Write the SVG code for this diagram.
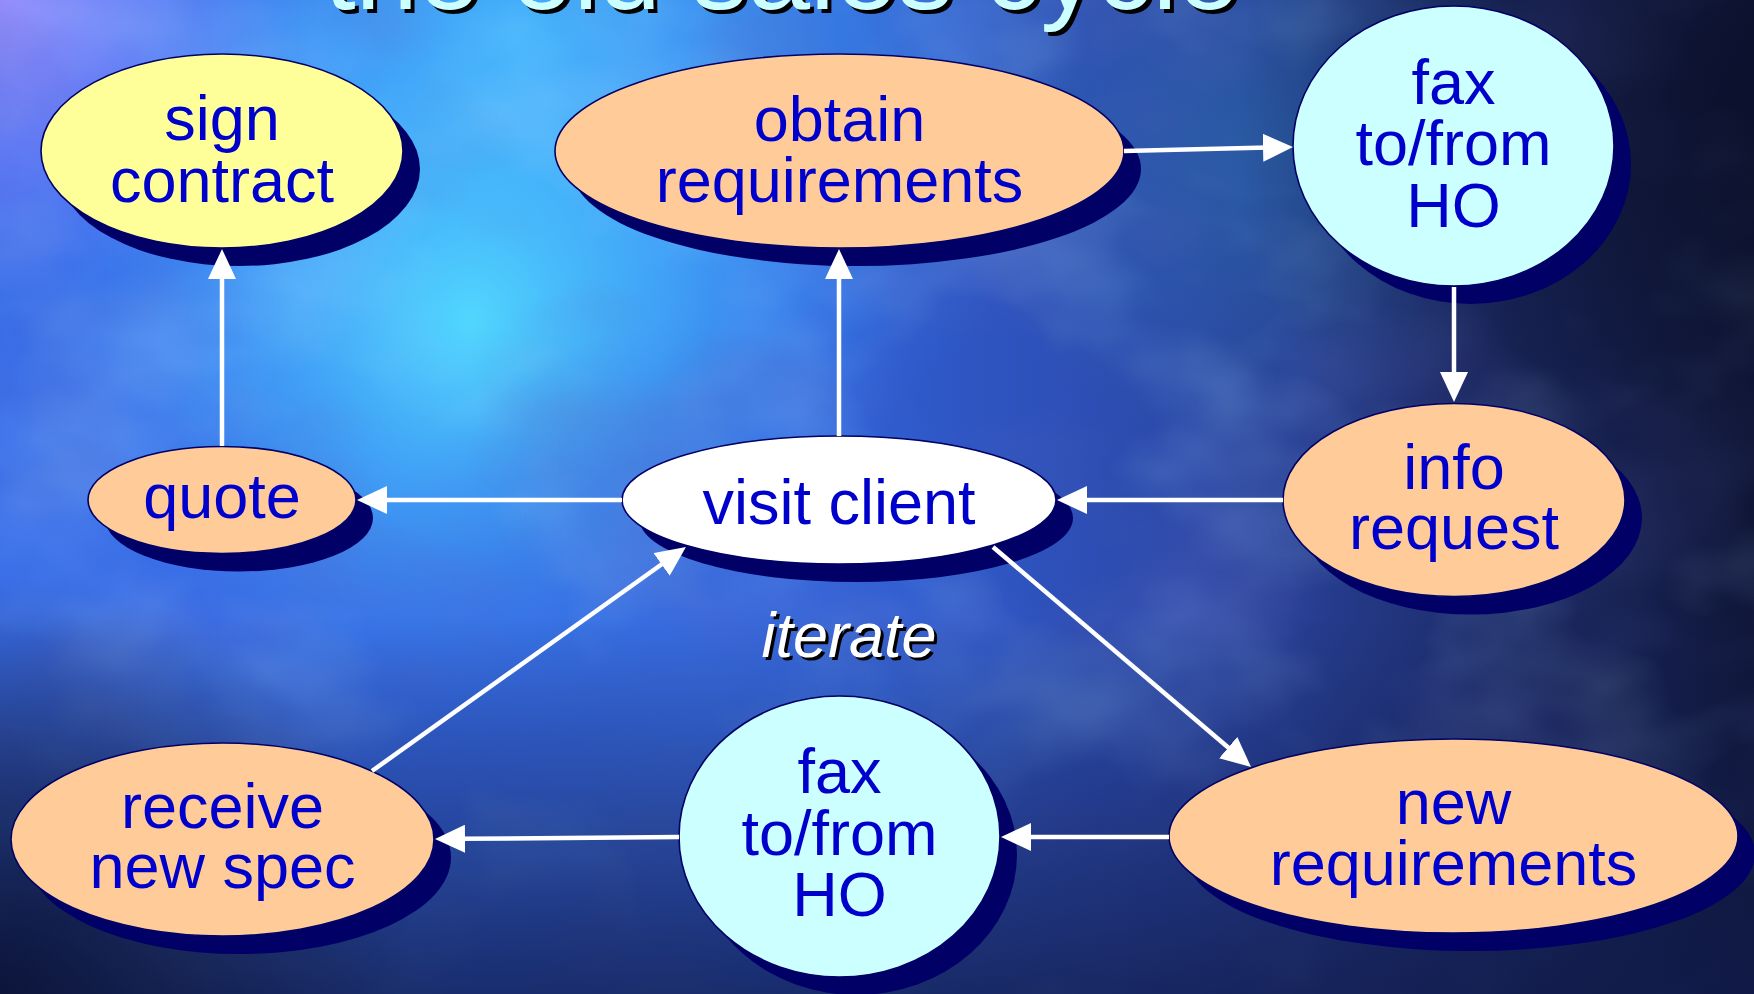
<svg xmlns="http://www.w3.org/2000/svg" width="1754" height="994" viewBox="0 0 1754 994">
  <defs>
    <linearGradient id="bgBase" x1="0" y1="0" x2="1" y2="0">
      <stop offset="0" stop-color="#3a6ee8"/>
      <stop offset="0.45" stop-color="#3060d8"/>
      <stop offset="0.68" stop-color="#2c48a8"/>
      <stop offset="0.86" stop-color="#1c2a66"/>
      <stop offset="1" stop-color="#10173a"/>
    </linearGradient>
    <radialGradient id="glowCyan" cx="470" cy="320" r="430" gradientUnits="userSpaceOnUse">
      <stop offset="0" stop-color="#52dcff" stop-opacity="0.95"/>
      <stop offset="0.5" stop-color="#44b4ff" stop-opacity="0.55"/>
      <stop offset="1" stop-color="#3a80ff" stop-opacity="0"/>
    </radialGradient>
    <radialGradient id="glowTop" cx="520" cy="40" r="540" gradientUnits="userSpaceOnUse">
      <stop offset="0" stop-color="#4cd0ff" stop-opacity="0.85"/>
      <stop offset="1" stop-color="#3a90ff" stop-opacity="0"/>
    </radialGradient>
    <radialGradient id="glowTeal" cx="1250" cy="150" r="300" gradientUnits="userSpaceOnUse">
      <stop offset="0" stop-color="#2a6aa8" stop-opacity="0.6"/>
      <stop offset="1" stop-color="#2a6aa8" stop-opacity="0"/>
    </radialGradient>
    <radialGradient id="glowCorner" cx="0" cy="0" r="300" gradientUnits="userSpaceOnUse">
      <stop offset="0" stop-color="#9a8cff" stop-opacity="0.95"/>
      <stop offset="1" stop-color="#7a80ff" stop-opacity="0"/>
    </radialGradient>
    <radialGradient id="glowMid" cx="700" cy="680" r="360" gradientUnits="userSpaceOnUse">
      <stop offset="0" stop-color="#3a6ee0" stop-opacity="0.7"/>
      <stop offset="1" stop-color="#3a6ee0" stop-opacity="0"/>
    </radialGradient>
    <linearGradient id="shadeBottom" x1="0" y1="0" x2="0" y2="1">
      <stop offset="0" stop-color="#101a48" stop-opacity="0"/>
      <stop offset="0.62" stop-color="#101a48" stop-opacity="0"/>
      <stop offset="1" stop-color="#101a48" stop-opacity="0.75"/>
    </linearGradient>
    <radialGradient id="shadeCorner" cx="0" cy="994" r="420" gradientUnits="userSpaceOnUse">
      <stop offset="0" stop-color="#0a1030" stop-opacity="0.85"/>
      <stop offset="1" stop-color="#0a1030" stop-opacity="0"/>
    </radialGradient>
    <radialGradient id="shadeRight" cx="1754" cy="120" r="520" gradientUnits="userSpaceOnUse">
      <stop offset="0" stop-color="#0a0f28" stop-opacity="0.8"/>
      <stop offset="1" stop-color="#0a0f28" stop-opacity="0"/>
    </radialGradient>
    <filter id="clouds" x="0" y="0" width="1" height="1">
      <feTurbulence type="fractalNoise" baseFrequency="0.0035 0.005" numOctaves="4" seed="7"/>
      <feColorMatrix values="0 0 0 0 0.45  0 0 0 0 0.75  0 0 0 0 1  2.2 0 0 0 -1.05"/>
    </filter>
    <filter id="cloudsDark" x="0" y="0" width="1" height="1">
      <feTurbulence type="fractalNoise" baseFrequency="0.004 0.006" numOctaves="3" seed="21"/>
      <feColorMatrix values="0 0 0 0 0.12  0 0 0 0 0.14  0 0 0 0 0.5  2.2 0 0 0 -1.05"/>
    </filter>
    <marker id="arrow" markerUnits="userSpaceOnUse" markerWidth="30" markerHeight="28" refX="5" refY="14" orient="auto">
      <path d="M0,0 L30,14 L0,28 Z" fill="#ffffff"/>
    </marker>
    <style>
      .shadow { fill: #000066; }
      .node { stroke: #000066; stroke-width: 1.6; }
      .peach { fill: #ffcc99; }
      .yellow { fill: #ffff99; }
      .cyan { fill: #ccffff; }
      .white { fill: #ffffff; }
      .label { font-family: "Liberation Sans", Arial, sans-serif; font-size: 63px; fill: #0000cc; text-anchor: middle; }
      .conn { stroke: #ffffff; stroke-width: 4.5; fill: none; marker-end: url(#arrow); }
      .title { font-family: "Liberation Sans", Arial, sans-serif; font-size: 112px; text-anchor: middle; }
      .iter { font-family: "Liberation Sans", Arial, sans-serif; font-size: 63px; font-style: italic; text-anchor: middle; }
    </style>
  </defs>

  <!-- backdrop -->
  <g id="background">
    <rect width="1754" height="994" fill="url(#bgBase)"/>
    <rect width="1754" height="994" fill="url(#glowTop)"/>
    <rect width="1754" height="994" fill="url(#glowTeal)"/>
    <rect width="1754" height="994" fill="url(#glowCyan)"/>
    <rect width="1754" height="994" fill="url(#glowMid)"/>
    <rect width="1754" height="994" fill="url(#glowCorner)"/>
    <rect width="1754" height="994" filter="url(#clouds)" opacity="0.3"/>
    <rect width="1754" height="994" filter="url(#cloudsDark)" opacity="0.3"/>
    <rect width="1754" height="994" fill="url(#shadeRight)"/>
    <rect width="1754" height="994" fill="url(#shadeBottom)"/>
    <rect width="1754" height="994" fill="url(#shadeCorner)"/>
  </g>

  <!-- heading, clipped by the top edge -->
  <g id="title">
    <text class="title" x="786" y="13" fill="#000000">the old sales cycle</text>
    <text class="title" x="782" y="9" fill="#ccffff">the old sales cycle</text>
  </g>

  <g id="sign-contract">
    <ellipse class="shadow" cx="239" cy="169" rx="181" ry="97"/>
    <ellipse class="node yellow" cx="222" cy="151" rx="181" ry="97"/>
    <text class="label"><tspan x="222" y="140">sign</tspan><tspan x="222" y="202">contract</tspan></text>
  </g>

  <g id="obtain-requirements">
    <ellipse class="shadow" cx="856.5" cy="169" rx="284.5" ry="97"/>
    <ellipse class="node peach" cx="839.5" cy="151" rx="284.5" ry="97"/>
    <text class="label"><tspan x="839.5" y="141">obtain</tspan><tspan x="839.5" y="202">requirements</tspan></text>
  </g>

  <g id="fax-top">
    <ellipse class="shadow" cx="1470.5" cy="164" rx="160.5" ry="140"/>
    <ellipse class="node cyan" cx="1453.5" cy="146" rx="160.5" ry="140"/>
    <text class="label"><tspan x="1453.5" y="104">fax</tspan><tspan x="1453.5" y="165">to/from</tspan><tspan x="1453.5" y="227">HO</tspan></text>
  </g>

  <g id="info-request">
    <ellipse class="shadow" cx="1471" cy="518" rx="171" ry="96.5"/>
    <ellipse class="node peach" cx="1454" cy="500" rx="171" ry="96.5"/>
    <text class="label"><tspan x="1454" y="489">info</tspan><tspan x="1454" y="549">request</tspan></text>
  </g>

  <g id="visit-client">
    <ellipse class="shadow" cx="856" cy="518" rx="217" ry="64"/>
    <ellipse class="node white" cx="839" cy="500" rx="217" ry="64"/>
    <text class="label" x="839" y="524">visit client</text>
  </g>

  <g id="quote">
    <ellipse class="shadow" cx="239" cy="518" rx="134" ry="53.5"/>
    <ellipse class="node peach" cx="222" cy="500" rx="134" ry="53.5"/>
    <text class="label" x="222" y="518">quote</text>
  </g>

  <g id="new-requirements">
    <ellipse class="shadow" cx="1470.5" cy="854" rx="284.5" ry="97"/>
    <ellipse class="node peach" cx="1453.5" cy="836" rx="284.5" ry="97"/>
    <text class="label"><tspan x="1453.5" y="824">new</tspan><tspan x="1453.5" y="885">requirements</tspan></text>
  </g>

  <g id="fax-bottom">
    <ellipse class="shadow" cx="856.5" cy="854.5" rx="160.5" ry="140.5"/>
    <ellipse class="node cyan" cx="839.5" cy="836.5" rx="160.5" ry="140.5"/>
    <text class="label"><tspan x="839.5" y="793">fax</tspan><tspan x="839.5" y="855">to/from</tspan><tspan x="839.5" y="916">HO</tspan></text>
  </g>

  <g id="receive-new-spec">
    <ellipse class="shadow" cx="239.5" cy="857.5" rx="211.5" ry="96.5"/>
    <ellipse class="node peach" cx="222.5" cy="839.5" rx="211.5" ry="96.5"/>
    <text class="label"><tspan x="222.5" y="828">receive</tspan><tspan x="222.5" y="888">new spec</tspan></text>
  </g>

  <g id="iterate-label">
    <text class="iter" x="852" y="660" fill="#000000">iterate</text>
    <text class="iter" x="849" y="657" fill="#ffffff">iterate</text>
  </g>

  <!-- arrows: each path stops 25px short of its tip; the marker supplies the head -->
  <g id="connectors">
    <path class="conn" d="M222,446 L222,274"/>
    <path class="conn" d="M839,436 L839,274"/>
    <path class="conn" d="M1124,151 L1268,147.6"/>
    <path class="conn" d="M1454,287 L1454,377"/>
    <path class="conn" d="M1283,500 L1082,500"/>
    <path class="conn" d="M622,500 L382,500"/>
    <path class="conn" d="M993,547 L1232,750.8"/>
    <path class="conn" d="M1169,837 L1026,837"/>
    <path class="conn" d="M679,837 L460,838.8"/>
    <path class="conn" d="M372,771 L665.6,561.5"/>
  </g>
</svg>
